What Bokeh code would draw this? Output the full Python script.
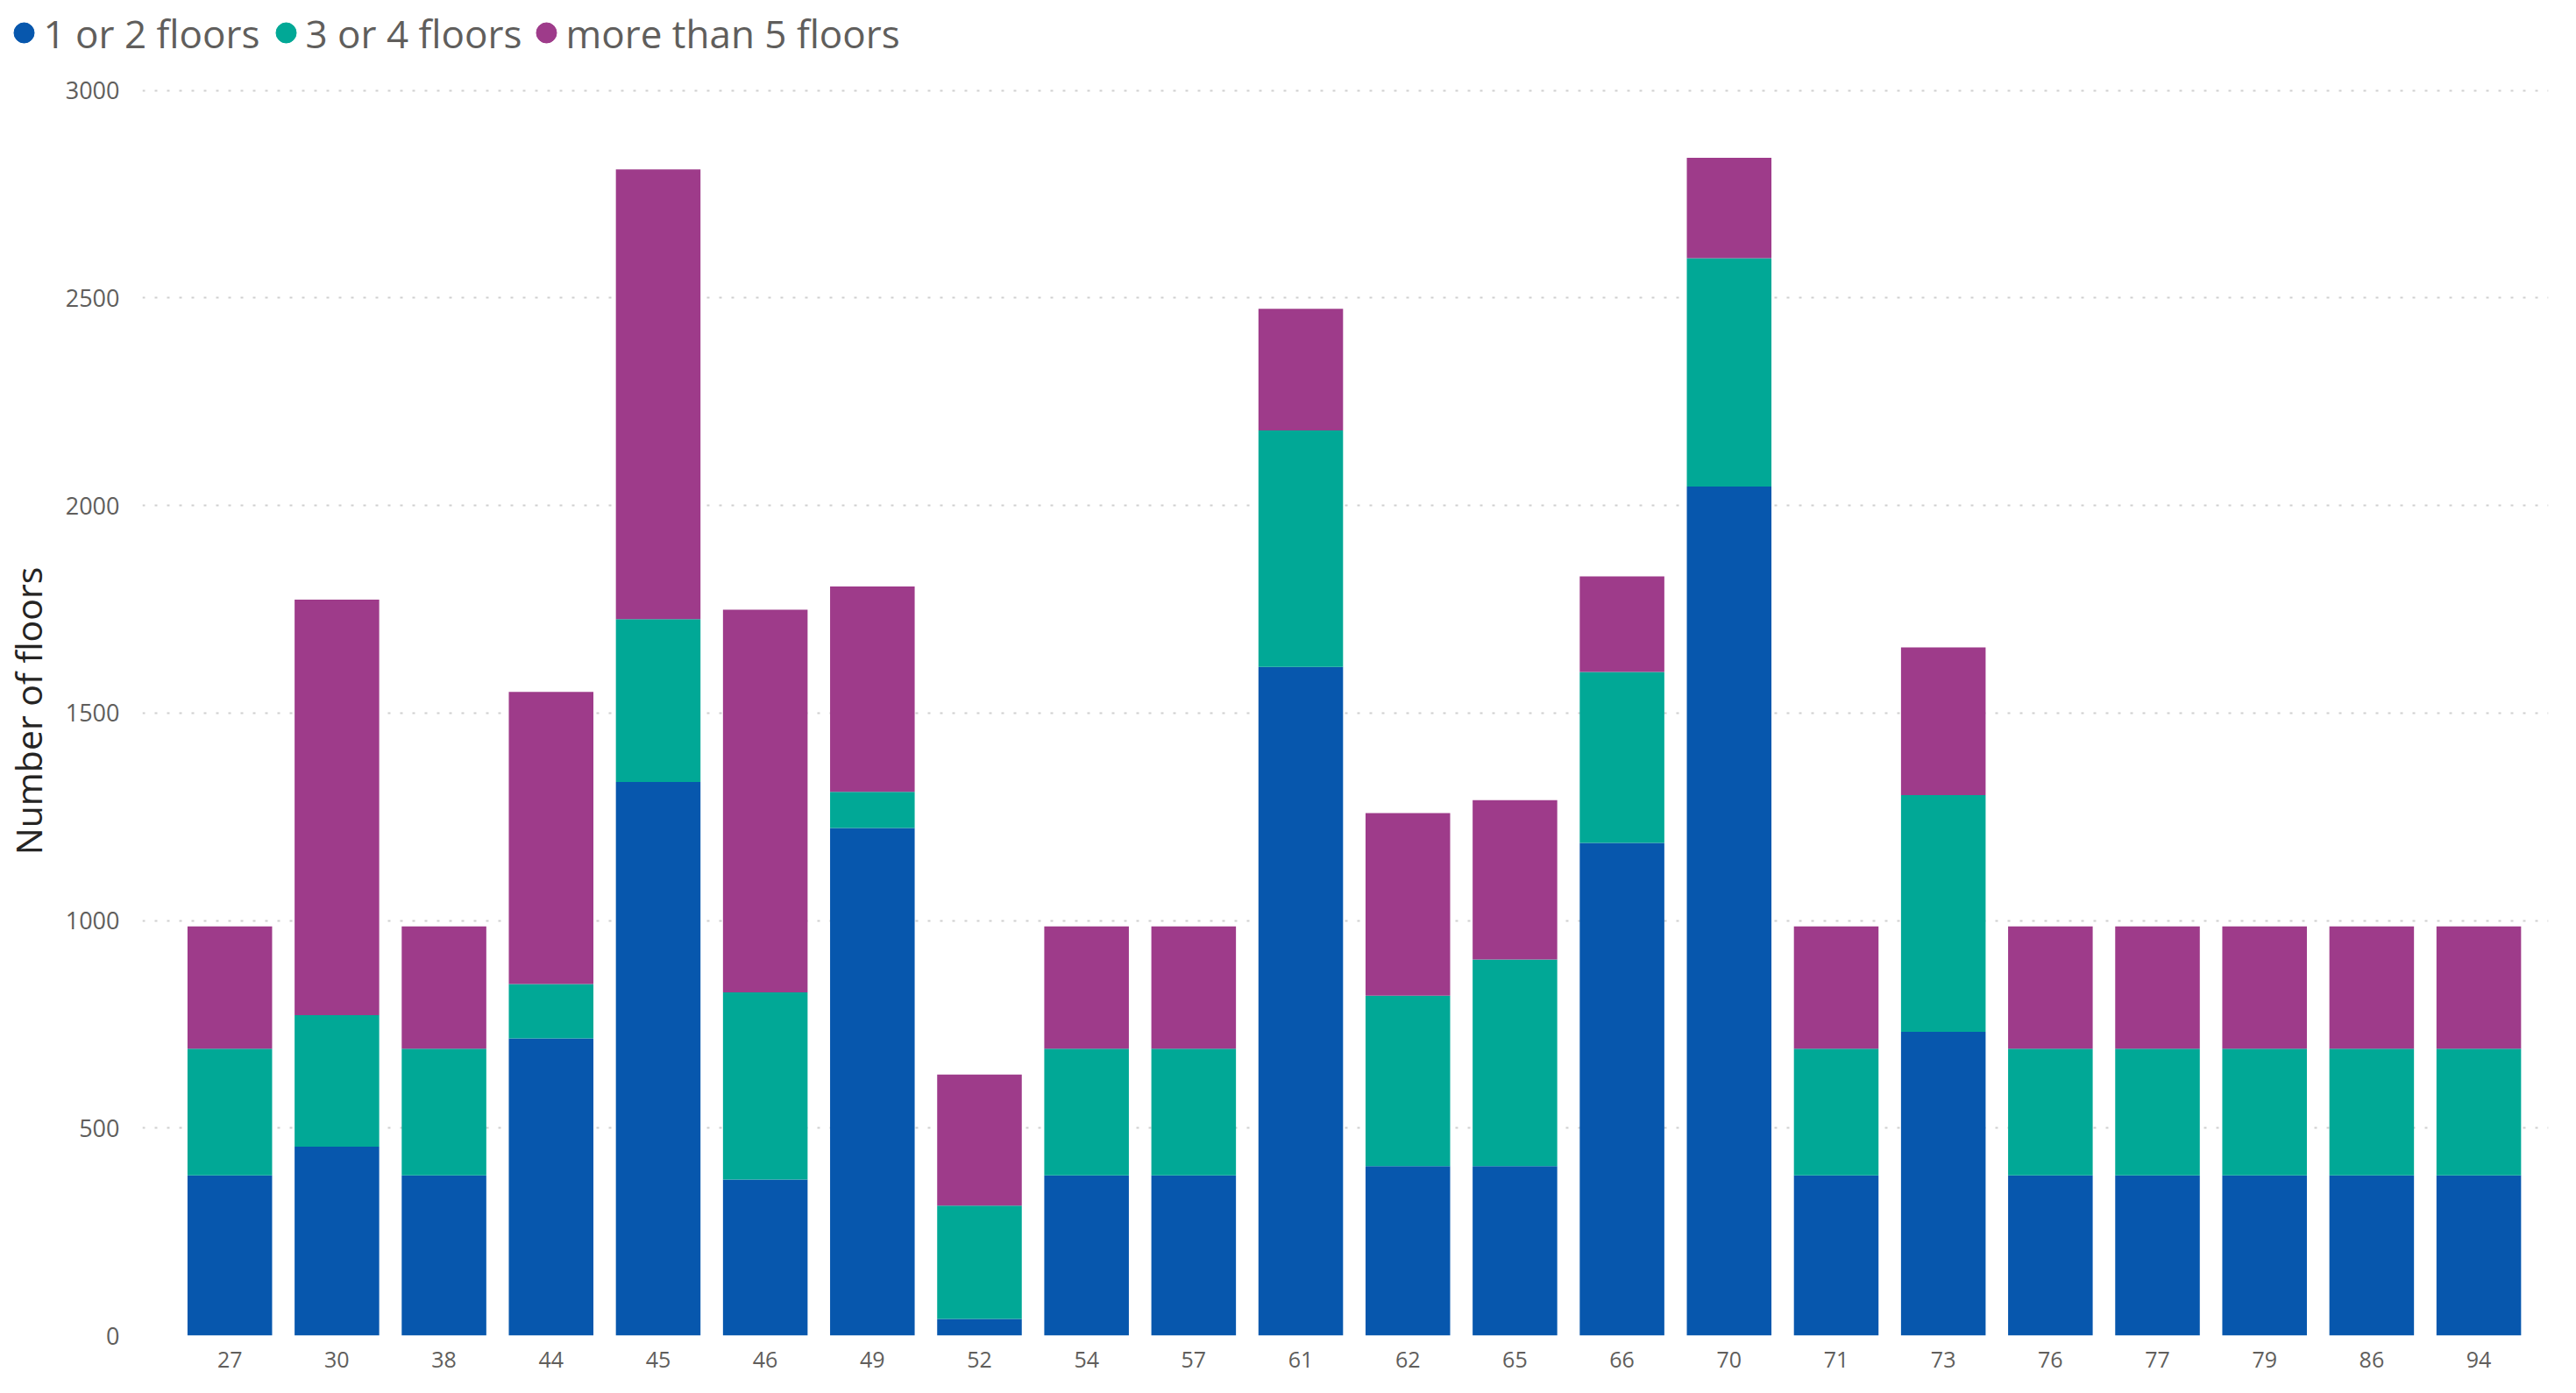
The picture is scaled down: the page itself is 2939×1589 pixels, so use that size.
from bokeh.plotting import figure
from bokeh.layouts import column, row
from bokeh.models import ColumnDataSource, Range1d, FixedTicker
from bokeh.core.properties import value
from bokeh.embed import file_html
from bokeh.resources import INLINE

categories = ["27", "30", "38", "44", "45", "46", "49", "52", "54", "57", "61",
              "62", "65", "66", "70", "71", "73", "76", "77", "79", "86", "94"]
one_or_two = [386, 455, 386, 716, 1334, 376, 1223, 40, 386, 386, 1611,
              408, 408, 1187, 2046, 386, 732, 386, 386, 386, 386, 386]
three_or_four = [305, 317, 305, 131, 392, 451, 87, 273, 305, 305, 570,
                 411, 498, 412, 550, 305, 570, 305, 305, 305, 305, 305]
more_than_five = [295, 1001, 295, 704, 1084, 922, 495, 316, 295, 295, 293,
                  440, 384, 230, 242, 295, 356, 295, 295, 295, 295, 295]
series_names = ["1 or 2 floors", "3 or 4 floors", "more than 5 floors"]
series_keys = ["one_or_two", "three_or_four", "more_than_five"]
colors = ["#0757AD", "#01A896", "#9E3B8A"]
y_ticks = [0, 500, 1000, 1500, 2000, 2500, 3000]

W = 2923
LEG_H = 70
MAIN_H = 1503

# ---------------- legend strip ----------------
leg = figure(width=W, height=LEG_H, output_backend="svg", toolbar_location=None,
             x_range=Range1d(0, W), y_range=Range1d(0, LEG_H),
             min_border=0, min_border_left=0, min_border_right=0,
             min_border_top=0, min_border_bottom=0)
leg.axis.visible = False
leg.grid.visible = False
leg.outline_line_color = None
dot_x = [27, 326, 623]
dot_y = [LEG_H - 37] * 3
leg.scatter(x=dot_x, y=dot_y, marker="circle", size=23, fill_color=colors,
            line_color=colors)
leg.text(x=[d + 22 for d in dot_x], y=dot_y, text=series_names,
         text_font=value("Open Sans"), text_font_size="44px",
         text_color="#605E5C", text_baseline="middle", text_align="left")

# ---------------- main chart ----------------
idx = list(range(len(categories)))
source = ColumnDataSource(data=dict(
    x=idx, one_or_two=one_or_two, three_or_four=three_or_four,
    more_than_five=more_than_five))

p = figure(width=W, height=MAIN_H, output_backend="svg", toolbar_location=None,
           x_range=Range1d(-0.816, 21.65), y_range=Range1d(0, 3010),
           min_border_left=152, min_border_right=16, min_border_top=28,
           min_border_bottom=50)
p.outline_line_color = None

p.vbar_stack(series_keys, x="x", width=0.79, color=colors, line_color=None,
             source=source)

p.xaxis.ticker = FixedTicker(ticks=idx)
p.xaxis.major_label_overrides = {i: c for i, c in zip(idx, categories)}
p.xaxis.axis_line_color = None
p.xaxis.major_tick_line_color = None
p.xaxis.minor_tick_line_color = None
p.xaxis.major_label_text_font = "Open Sans"
p.xaxis.major_label_text_font_size = "25px"
p.xaxis.major_label_text_color = "#605E5C"
p.xaxis.major_label_standoff = 12

p.yaxis.ticker = FixedTicker(ticks=y_ticks)
p.yaxis.axis_line_color = None
p.yaxis.major_tick_line_color = None
p.yaxis.minor_tick_line_color = None
p.yaxis.major_label_text_font = "Open Sans"
p.yaxis.major_label_text_font_size = "27px"
p.yaxis.major_label_text_color = "#605E5C"
p.yaxis.major_label_standoff = 20
p.yaxis.axis_label = "Number of floors"
p.yaxis.axis_label_text_font = "Open Sans"
p.yaxis.axis_label_text_font_size = "41px"
p.yaxis.axis_label_text_font_style = "normal"
p.yaxis.axis_label_text_color = "#252423"
p.yaxis.axis_label_standoff = 12

p.xgrid.grid_line_color = None
p.ygrid.grid_line_color = "#D0D0D0"
p.ygrid.grid_line_width = 2
p.ygrid.grid_line_dash = "3 11"

layout = column(row(leg), p, spacing=0)
open("out.html", "w").write(file_html(layout, INLINE))
